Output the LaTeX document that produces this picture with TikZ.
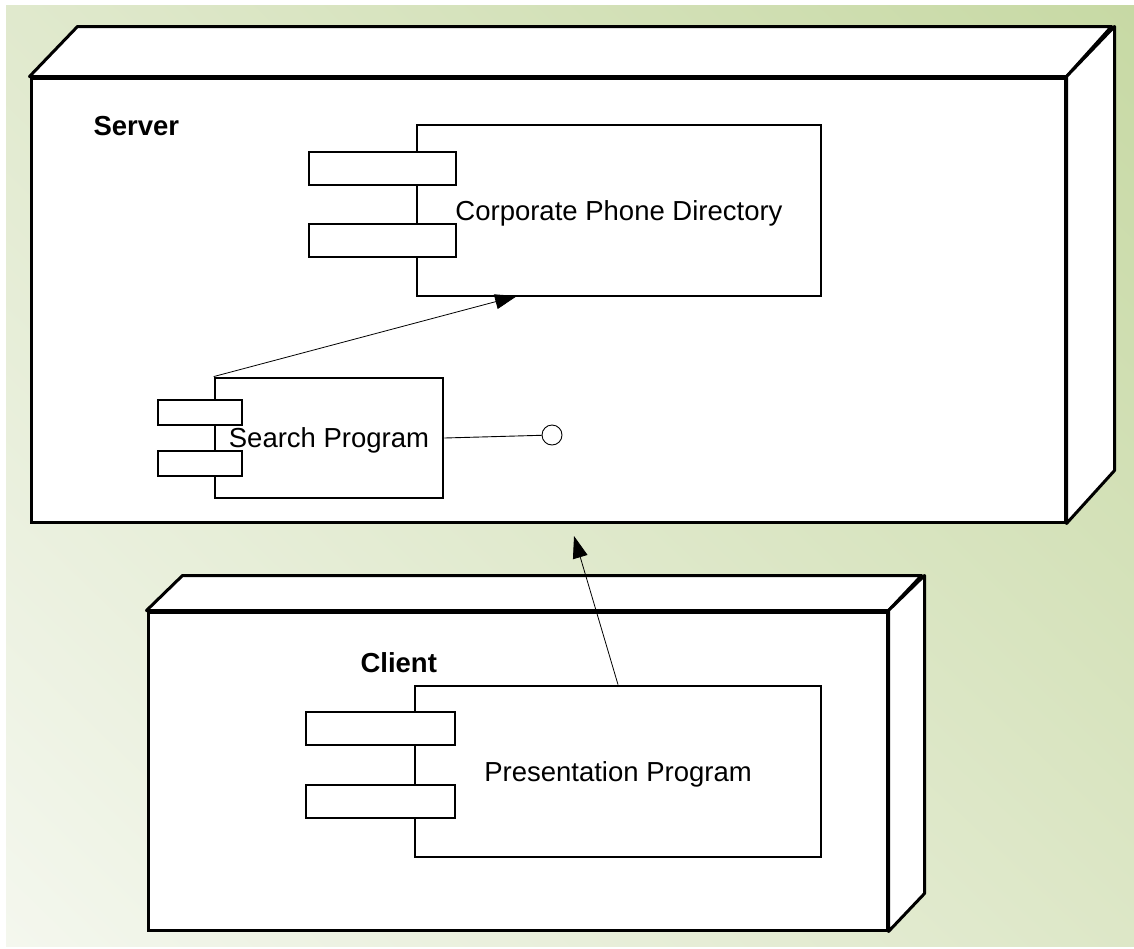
\documentclass[tikz,border=0pt]{standalone}
\usepackage{fontspec}
\setmainfont{Liberation Sans}
\usepackage{tikz}
\usetikzlibrary{arrows.meta,positioning,shadings}
\definecolor{bgtl}{RGB}{224,233,205}
\definecolor{bgtr}{RGB}{199,217,164}
\definecolor{bgbl}{RGB}{244,247,238}
\definecolor{bgbr}{RGB}{221,231,199}
\tikzset{
  device/.style={draw,line width=3pt,fill=white,inner sep=0pt},
  face/.style={draw,line width=3pt,fill=white,line join=round},
  part/.style={draw,line width=2.8pt,fill=white,inner sep=0pt,text depth=0pt},
  port/.style={draw,line width=2.6pt,fill=white,inner sep=0pt},
  title/.style={anchor=west,font=\fontsize{27.5}{33}\selectfont\bfseries},
  dep/.style={-{Triangle[length=22pt,width=15pt]},line width=0.8pt}
}

\begin{document}
\begin{tikzpicture}[x=1pt,y=-1pt,font=\fontsize{27.5}{33}\selectfont]
\useasboundingbox (0,0) rectangle (1134,948);
\shade[upper left=bgtl,upper right=bgtr,lower left=bgbl,lower right=bgbr] (6,5) rectangle (1134,946);

% server node
\node[device,minimum width=1034,minimum height=444] (srv) at (548,300) {};
\draw[face] (srv.north west) -- ++(48,-50) -- ++(1034,0) -- (srv.north east) -- cycle;
\draw[face] (srv.north east) -- ++(48,-50) -- ++(0,444) -- (srv.south east) -- cycle;
\node[title] (srvlbl) at (90,126) {Server};

\node[part,minimum width=404,minimum height=171] (cpd) at (619,210.5) {Corporate Phone Directory};
\node[port,minimum width=147,minimum height=33] (cpdp1) at (382.5,168.5) {};
\node[port,minimum width=147,minimum height=33] (cpdp2) at (382.5,240.5) {};

\node[part,minimum width=228,minimum height=120] (srch) at (329,438) {Search Program};
\node[port,minimum width=84,minimum height=25] (srchp1) at (200,412.5) {};
\node[port,minimum width=84,minimum height=25] (srchp2) at (200,463.5) {};
\node[circle,draw,line width=0.9pt,fill=white,minimum size=20,inner sep=0pt] (iface) at (552,435) {};

% client node
\node[device,minimum width=739,minimum height=318] (cli) at (517.5,771) {};
\draw[face] (cli.north west) -- ++(36,-35) -- ++(739,0) -- (cli.north east) -- cycle;
\draw[face] (cli.north east) -- ++(36,-35) -- ++(0,318) -- (cli.south east) -- cycle;
\node[title] (clilbl) at (357,663) {Client};

\node[part,minimum width=406,minimum height=171] (pres) at (618,771.5) {Presentation Program};
\node[port,minimum width=149,minimum height=33] (presp1) at (380.5,728.5) {};
\node[port,minimum width=149,minimum height=33] (presp2) at (380.5,801.5) {};

\coordinate (cpdin) at (517,296);
\coordinate (srvin) at (574,536);
\path[dep]
(srch.north west) edge (cpdin)
(pres.north) edge (srvin);
\path[line width=0.9pt] (srch.east) edge (iface);
\end{tikzpicture}
\end{document}
